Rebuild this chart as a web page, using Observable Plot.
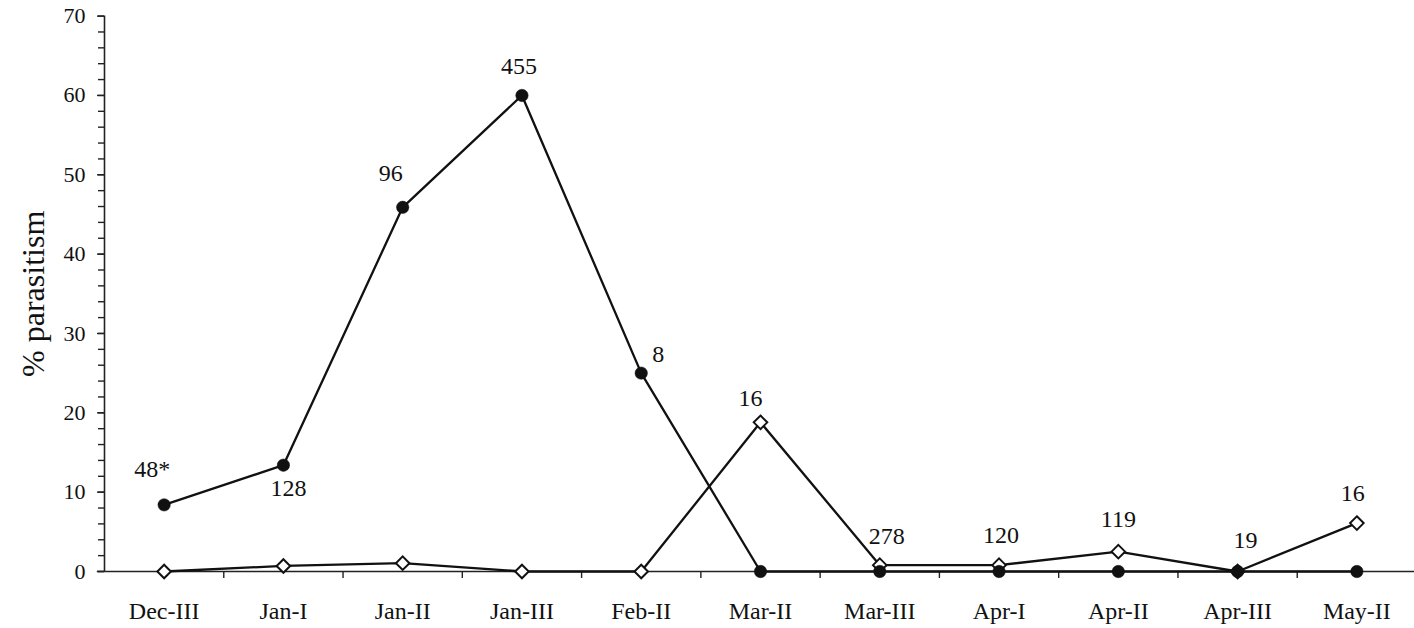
<!DOCTYPE html>
<html>
<head>
<meta charset="utf-8">
<script src="https://cdn.jsdelivr.net/npm/d3@7"></script>
<script src="https://cdn.jsdelivr.net/npm/@observablehq/plot@0.6"></script>
<style>
  html, body { margin: 0; padding: 0; background: #fff; }
  #chart svg { display: block; }
</style>
</head>
<body>
<div id="chart"></div>
<script>
// Sampling periods (month + ten-day period)
const periods = ["Dec-III", "Jan-I", "Jan-II", "Jan-III", "Feb-II", "Mar-II",
                 "Mar-III", "Apr-I", "Apr-II", "Apr-III", "May-II"];

// % parasitism, filled-circle series
const solidPct = [8.4, 13.4, 45.9, 60, 25, 0, 0, 0, 0, 0, 0];

// % parasitism, open-diamond series
const hollowPct = [0, 0.7, 1.05, 0, 0, 18.8, 0.8, 0.8, 2.5, 0, 6.1];

// Number of hosts examined in each period
const sampleSizes = ["48*", "128", "96", "455", "8", "16", "278", "120", "119", "19", "16"];

const yTicks = [0, 10, 20, 30, 40, 50, 60, 70];

// Build rows for the marks
const solidRows = periods.map((p, i) => ({i, period: p, value: solidPct[i]}));
const hollowRows = periods.map((p, i) => ({i, period: p, value: hollowPct[i]}));
const labelRows = periods.map((p, i) => ({
  i, text: sampleSizes[i], value: Math.max(solidPct[i], hollowPct[i])
}));

// Offsets that keep each sample-size label clear of the lines
const labelShift = [
  [-12, -36], [5, 23], [-12, -34], [-3, -29], [17, -19], [-10, -24],
  [7, -29], [2, -30], [0, -32], [8, -31], [-4, -30]
];

const font = "'Liberation Serif', 'Times New Roman', Times, serif";
const ink = "#111";
const axisInk = "#222";

const plot = Plot.plot({
  width: 1414,
  height: 628,
  marginLeft: 104,
  marginRight: -2,
  marginTop: 15.6,
  marginBottom: 57,
  style: {fontFamily: font, color: ink, background: "#fff", overflow: "visible"},
  x: {type: "linear", domain: [-0.5, 10.5]},
  y: {domain: [0, 70]},
  marks: [
    // minor y ticks every 2
    Plot.axisY({ticks: d3.range(0, 71, 2), tickSize: 6, label: null,
                stroke: axisInk, strokeWidth: 1.4, text: null}),
    // major y ticks + labels
    Plot.axisY({ticks: yTicks, tickSize: 7, tickPadding: 12, label: null,
                fontSize: 22, stroke: axisInk, strokeWidth: 1.4, fill: ink}),
    // tick marks at period boundaries
    Plot.axisX({ticks: d3.range(0.5, 10, 1), tickSize: 7, text: null, label: null,
                stroke: axisInk, strokeWidth: 1.4}),
    // period labels
    Plot.axisX({ticks: d3.range(0, 11), tickSize: 0, tickPadding: 30, label: null,
                tickFormat: i => periods[i], fontSize: 24, fill: ink}),
    // axis lines
    Plot.ruleX([-0.5], {y1: 0, y2: 70, stroke: axisInk, strokeWidth: 1.6}),
    Plot.ruleY([0], {x1: -0.56, x2: 10.5, stroke: axisInk, strokeWidth: 1.6}),
    // y axis title
    Plot.text(["% parasitism"], {
      frameAnchor: "left", textAnchor: "middle", dx: -71,
      rotate: -90, fontSize: 32, fill: ink
    }),
    // series lines
    Plot.line(hollowRows, {x: "i", y: "value", stroke: ink, strokeWidth: 2.3}),
    Plot.line(solidRows, {x: "i", y: "value", stroke: ink, strokeWidth: 2.3}),
    // markers
    Plot.dot(hollowRows, {x: "i", y: "value", symbol: "diamond2", r: 6.1,
                          fill: "#fff", stroke: ink, strokeWidth: 2}),
    Plot.dot(solidRows, {x: "i", y: "value", symbol: "circle", r: 6.2,
                         fill: ink, stroke: ink, strokeWidth: 0.5}),
    // sample-size labels
    ...labelRows.map((d, k) => Plot.text([d], {
      x: "i", y: "value", text: "text",
      dx: labelShift[k][0], dy: labelShift[k][1],
      fontSize: 24, fill: ink
    }))
  ]
});

document.getElementById("chart").appendChild(plot);
</script>
</body>
</html>
